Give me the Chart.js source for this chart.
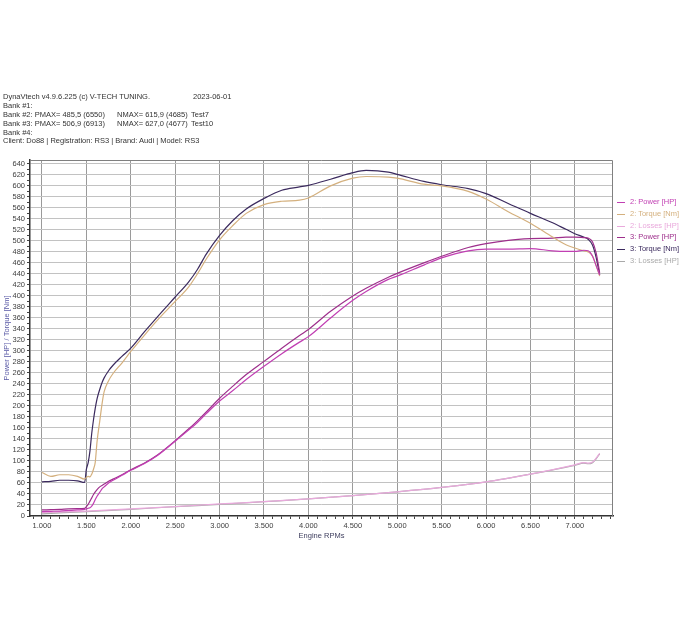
<!DOCTYPE html>
<html>
<head>
<meta charset="utf-8">
<script src="https://cdn.jsdelivr.net/npm/chart.js@4.4.1/dist/chart.umd.min.js"></script>
<style>
  html, body { margin: 0; padding: 0; background: #fff; }
  #wrap { position: relative; width: 700px; height: 630px; }
  canvas { position: absolute; left: 0; top: 0; }
  .t { position: absolute; font-family: "Liberation Sans", Arial, sans-serif; font-size: 7.5px; line-height: 9px; color: #333; white-space: pre; }
  .lg { position: absolute; left: 617px; font-family: "Liberation Sans", Arial, sans-serif; font-size: 7.5px; line-height: 9px; white-space: pre; }
  .lg span.ln { display: inline-block; width: 8px; height: 1px; vertical-align: middle; margin-right: 5px; }
</style>
</head>
<body>
<div id="wrap">
  <canvas id="c" width="700" height="630"></canvas>
  <div class="t" style="left:3px;top:92px;">DynaVtech v4.9.6.225 (c) V-TECH TUNING.</div>
  <div class="t" style="left:193px;top:92px;">2023-06-01</div>
  <div class="t" style="left:3px;top:101px;">Bank #1:</div>
  <div class="t" style="left:3px;top:110px;">Bank #2: PMAX= 485,5 (6550)</div>
  <div class="t" style="left:117px;top:110px;">NMAX= 615,9 (4685)</div>
  <div class="t" style="left:191px;top:110px;">Test7</div>
  <div class="t" style="left:3px;top:119px;">Bank #3: PMAX= 506,9 (6913)</div>
  <div class="t" style="left:117px;top:119px;">NMAX= 627,0 (4677)</div>
  <div class="t" style="left:191px;top:119px;">Test10</div>
  <div class="t" style="left:3px;top:128px;">Bank #4:</div>
  <div class="t" style="left:3px;top:136px;">Client: Do88 | Registration: RS3 | Brand: Audi | Model: RS3</div>
  <div id="legend"></div>
</div>
<script>
// ---- data ----
const rpm = [1000,1100,1200,1300,1400,1480,1500,1520,1540,1560,1580,1600,1620,1650,1680,1700,1750,1800,1900,2000,2150,2300,2500,2650,2750,2850,3000,3150,3300,3500,3700,3900,4000,4250,4500,4650,4900,5000,5300,5500,5800,6000,6250,6500,6750,6900,7000,7100,7150,7200,7240,7280];

const power2 = [8,8.5,9,10,11,12,13,14,15,18,23,30,36,43,50,53,60,65,74,83,95,110,136,156,170,186,209,228,248,272,295,316,326,360,392,408,430,436,456,469,482,485,485,486,482,481,481,483,482,472,455,438];

const torque2 = [79,72,75,75,72,67,70,72,71,76,85,98,135,172,208,226,246,259,278,299,328,356,390,416,440,467,502,528,550,566,572,574,578,600,614,617,616,614,603,600,590,576,553,532,507,493,487,482,480,472,455,436];

const power3 = [11,11.5,12,13,13.5,14,17,21,27,33,39,44,48,53,56,58,63,67,75,84,96,111,137,158,173,189,214,236,257,281,305,328,339,372,400,414,434,441,460,472,488,495,501,504,505,507,507,506,505,498,478,442];

const torque3 = [62,63,65,65,64,61,85,97,118,150,175,196,213,230,244,251,264,274,290,305,334,362,398,425,448,476,510,537,558,577,592,598,601,612,624,628,625,621,608,602,595,586,568,550,533,521,513,507,503,492,470,438];

const lossRpm = [1000,1500,2000,2500,3000,3500,4000,4500,5000,5500,6000,6500,7000,7100,7150,7200,7240,7280];
const losses2 = [6,9,13,17,22,26,31,37,44,52,62,76,93,97,96,98,105,114];
const losses3 = [4,8,12,17,21,26,31,37,44,52,62,76,92,96,95,97,104,113];

const seriesNames = ["2: Power [HP]","2: Torque [Nm]","2: Losses [HP]","3: Power [HP]","3: Torque [Nm]","3: Losses [HP]"];
const seriesColors = ["#c13fb3","#d4b07e","#e9a9dc","#9e2f8c","#3b2a5e","#a9a9a9"];

const xTickLabels = ["1.000","1.500","2.000","2.500","3.000","3.500","4.000","4.500","5.000","5.500","6.000","6.500","7.000"];
const xTickValues = [1000,1500,2000,2500,3000,3500,4000,4500,5000,5500,6000,6500,7000];

// ---- build ----
function pts(xs, ys) { return xs.map((x, i) => ({ x: x, y: ys[i] })); }
const seriesData = [pts(rpm, power2), pts(rpm, torque2), pts(lossRpm, losses2), pts(rpm, power3), pts(rpm, torque3), pts(lossRpm, losses3)];

const datasets = seriesNames.map((n, i) => ({
  label: n,
  data: seriesData[i],
  borderColor: seriesColors[i],
  backgroundColor: seriesColors[i],
  borderWidth: 1.2,
  pointRadius: 0,
  fill: false,
  cubicInterpolationMode: 'monotone'
}));

// legend (HTML, real text)
const lg = document.getElementById('legend');
const lgY = [197, 209, 221, 232, 244, 256];
seriesNames.forEach((n, i) => {
  const d = document.createElement('div');
  d.className = 'lg';
  d.style.top = lgY[i] + 'px';
  d.style.color = seriesColors[i];
  d.innerHTML = '<span class="ln" style="background:' + seriesColors[i] + '"></span>' + n;
  lg.appendChild(d);
});

const frame = {
  id: 'frame',
  afterDraw(chart) {
    const a = chart.chartArea, c = chart.ctx;
    c.save();
    c.strokeStyle = '#808080';
    c.lineWidth = 1;
    c.beginPath();
    c.moveTo(a.left, a.top + 0.5);
    c.lineTo(a.right - 0.5, a.top + 0.5);
    c.lineTo(a.right - 0.5, a.bottom);
    c.stroke();
    c.restore();
  }
};

const font = { family: '"Liberation Sans", Arial, sans-serif', size: 7.5 };

new Chart(document.getElementById('c'), {
  type: 'line',
  data: { datasets: datasets },
  plugins: [frame],
  options: {
    responsive: false,
    animation: false,
    layout: { padding: { left: 0, top: 160, right: 87, bottom: 88 } },
    plugins: { legend: { display: false }, tooltip: { enabled: false } },
    scales: {
      x: {
        type: 'linear',
        min: 865,
        max: 7430,
        afterFit(s) { s.height = 26; },
        afterBuildTicks(s) {
          const t = [];
          for (let v = 900; v <= 7400; v += 100) t.push({ value: v });
          s.ticks = t;
        },
        grid: {
          color: (ctx) => (ctx.tick && xTickValues.includes(ctx.tick.value)) ? '#9a9a9a' : 'rgba(0,0,0,0)',
          tickColor: '#444',
          tickLength: 3,
          lineWidth: 1
        },
        border: { color: '#333', width: 1.5 },
        ticks: {
          autoSkip: false,
          maxRotation: 0,
          padding: 2,
          color: '#404040',
          font: font,
          callback: (v) => { const k = xTickValues.indexOf(v); return k >= 0 ? xTickLabels[k] : ''; }
        },
        title: { display: true, text: 'Engine RPMs', color: '#3e3e5e', font: font, padding: { top: 0, bottom: 2 } }
      },
      y: {
        type: 'linear',
        min: 0,
        max: 647,
        afterFit(s) { s.width = 30; },
        afterBuildTicks(s) {
          const t = [];
          for (let v = 0; v <= 640; v += 10) t.push({ value: v });
          s.ticks = t;
        },
        grid: {
          color: (ctx) => (ctx.tick && ctx.tick.value % 20 === 0 && ctx.tick.value > 0) ? '#c2c2c2' : 'rgba(0,0,0,0)',
          tickColor: '#444',
          tickLength: 3,
          lineWidth: 1
        },
        border: { color: '#333', width: 1.5 },
        ticks: {
          autoSkip: false,
          padding: 2,
          color: '#404040',
          font: font,
          callback: (v) => (v % 20 === 0 ? String(v) : '')
        },
        title: { display: true, text: 'Power [HP] / Torque [Nm]', color: '#5a5aa6', font: font, padding: { top: 2, bottom: 0 } }
      }
    }
  }
});
</script>
</body>
</html>
